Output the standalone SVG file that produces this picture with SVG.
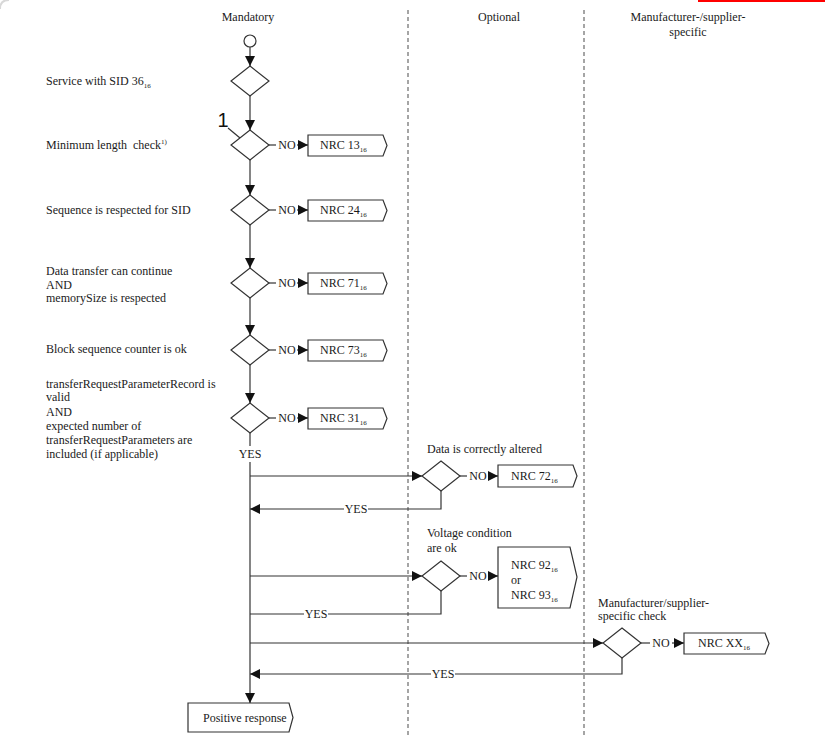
<svg xmlns="http://www.w3.org/2000/svg" width="825" height="749" viewBox="0 0 825 749">
<defs>
<marker id="ah" viewBox="0 0 10 10" refX="10" refY="5" markerWidth="10" markerHeight="10" markerUnits="userSpaceOnUse" orient="auto"><path d="M0,0 L10,5 L0,10 z" fill="#111"/></marker>
<style>
text{font-family:"Liberation Serif","Times New Roman",serif;font-size:12px;fill:#1a1a1a}
.c{text-anchor:middle}
.shape{fill:#fff;stroke:#333;stroke-width:1.2}
.ln{fill:none;stroke:#333;stroke-width:1.2}
.arr{fill:none;stroke:#333;stroke-width:1.2;marker-end:url(#ah)}
.lane{stroke:#888;stroke-width:1.5;stroke-dasharray:4 3}
.sub{font-size:7px}
</style>
</defs>
<rect width="825" height="749" fill="#fff"/>
<rect x="698" y="0" width="127" height="2" fill="#ff0000"/>
<path d="M0,9 Q0,0 9,0" fill="none" stroke="#d8d8d8" stroke-width="2"/>

<g id="lanes">
<line class="lane" x1="408" y1="10" x2="408" y2="735"/>
<line class="lane" x1="584" y1="10" x2="584" y2="735"/>
<text class="c" x="248" y="21">Mandatory</text>
<text class="c" x="499" y="21">Optional</text>
<text class="c" x="688" y="21">Manufacturer-/supplier-</text>
<text class="c" x="688" y="36">specific</text>
</g>

<g id="labels">
<text x="46" y="85">Service with SID 36<tspan class="sub" dy="3">16</tspan></text>
<text x="46" y="149" xml:space="preserve">Minimum length  check<tspan class="sub" dy="-5">1)</tspan></text>
<text x="46" y="214">Sequence is respected for SID</text>
<text x="46" y="275">Data transfer can continue</text>
<text x="46" y="289">AND</text>
<text x="46" y="302">memorySize is respected</text>
<text x="46" y="353">Block sequence counter is ok</text>
<text x="46" y="388">transferRequestParameterRecord is</text>
<text x="46" y="401">valid</text>
<text x="46" y="416">AND</text>
<text x="46" y="430">expected number of</text>
<text x="46" y="444">transferRequestParameters are</text>
<text x="46" y="458">included (if applicable)</text>
<text x="427" y="453">Data is correctly altered</text>
<text x="427" y="537">Voltage condition</text>
<text x="427" y="552">are ok</text>
<text x="598" y="607">Manufacturer/supplier-</text>
<text x="598" y="620">specific check</text>
<text x="223" y="127" class="c" style="font-family:'Liberation Sans',Arial,sans-serif;font-size:20px;fill:#111">1</text>
</g>

<g id="start"><circle class="shape" cx="250" cy="41" r="6"/></g>
<g id="d1"><polygon class="shape" points="250,66 269,81 250,96 231,81"/></g>
<g id="d2"><polygon class="shape" points="250,130 269,145 250,160 231,145"/></g>
<g id="d3"><polygon class="shape" points="250,195 269,210 250,225 231,210"/></g>
<g id="d4"><polygon class="shape" points="250,268 269,283 250,298 231,283"/></g>
<g id="d5"><polygon class="shape" points="250,335 269,350 250,365 231,350"/></g>
<g id="d6"><polygon class="shape" points="250,403 269,418 250,433 231,418"/></g>
<g id="o1"><polygon class="shape" points="441,461 460,476 441,491 422,476"/></g>
<g id="o2"><polygon class="shape" points="441,561 460,576 441,591 422,576"/></g>
<g id="m1"><polygon class="shape" points="622,628 641,643 622,658 603,643"/></g>

<g id="nrc13"><path class="shape" d="M308,135 H383 L387,145.5 L383,156 H308 Z"/><text x="320" y="149">NRC 13<tspan class="sub" dy="3">16</tspan></text></g>
<g id="nrc24"><path class="shape" d="M308,200 H383 L387,210.5 L383,221 H308 Z"/><text x="320" y="214">NRC 24<tspan class="sub" dy="3">16</tspan></text></g>
<g id="nrc71"><path class="shape" d="M308,273 H383 L387,283.5 L383,294 H308 Z"/><text x="320" y="287">NRC 71<tspan class="sub" dy="3">16</tspan></text></g>
<g id="nrc73"><path class="shape" d="M308,340 H383 L387,350.5 L383,361 H308 Z"/><text x="320" y="354">NRC 73<tspan class="sub" dy="3">16</tspan></text></g>
<g id="nrc31"><path class="shape" d="M308,408 H383 L387,418.5 L383,429 H308 Z"/><text x="320" y="422">NRC 31<tspan class="sub" dy="3">16</tspan></text></g>
<g id="nrc72"><path class="shape" d="M498,465 H573 L577,476 L573,487 H498 Z"/><text x="511" y="480">NRC 72<tspan class="sub" dy="3">16</tspan></text></g>
<g id="nrc9293"><path class="shape" d="M498,547 H570 L577,577 L570,608 H498 Z"/><text x="511" y="569">NRC 92<tspan class="sub" dy="3">16</tspan></text><text x="511" y="584">or</text><text x="511" y="599">NRC 93<tspan class="sub" dy="3">16</tspan></text></g>
<g id="nrcxx"><path class="shape" d="M684,633 H765 L769,643.5 L765,654 H684 Z"/><text x="698" y="647">NRC XX<tspan class="sub" dy="3">16</tspan></text></g>
<g id="positive"><path class="shape" d="M188,703 H289 L293,717.5 L289,732 H188 Z"/><text x="203" y="722">Positive response</text></g>

<g id="connectors">
<line class="arr" x1="250" y1="47" x2="250" y2="66"/>
<line class="arr" x1="250" y1="96" x2="250" y2="130"/>
<line class="arr" x1="250" y1="160" x2="250" y2="195"/>
<line class="arr" x1="250" y1="225" x2="250" y2="268"/>
<line class="arr" x1="250" y1="298" x2="250" y2="335"/>
<line class="arr" x1="250" y1="365" x2="250" y2="403"/>
<line class="ln" x1="250" y1="433" x2="250" y2="446"/>
<text class="c" x="250" y="458">YES</text>
<line class="arr" x1="250" y1="462" x2="250" y2="703"/>
<line class="ln" x1="228" y1="128" x2="240" y2="138"/>

<line class="ln" x1="269" y1="145" x2="276" y2="145"/><text class="c" x="287" y="149">NO</text><line class="arr" x1="297" y1="145" x2="308" y2="145"/>
<line class="ln" x1="269" y1="210" x2="276" y2="210"/><text class="c" x="287" y="214">NO</text><line class="arr" x1="297" y1="210" x2="308" y2="210"/>
<line class="ln" x1="269" y1="283" x2="276" y2="283"/><text class="c" x="287" y="287">NO</text><line class="arr" x1="297" y1="283" x2="308" y2="283"/>
<line class="ln" x1="269" y1="350" x2="276" y2="350"/><text class="c" x="287" y="354">NO</text><line class="arr" x1="297" y1="350" x2="308" y2="350"/>
<line class="ln" x1="269" y1="418" x2="276" y2="418"/><text class="c" x="287" y="422">NO</text><line class="arr" x1="297" y1="418" x2="308" y2="418"/>

<line class="arr" x1="250" y1="476" x2="422" y2="476"/>
<line class="ln" x1="460" y1="476" x2="467" y2="476"/><text class="c" x="478" y="480">NO</text><line class="arr" x1="488" y1="476" x2="498" y2="476"/>
<polyline class="ln" points="441,491 441,509 368,509"/>
<text class="c" x="356" y="513">YES</text>
<line class="arr" x1="344" y1="509" x2="250" y2="509"/>

<line class="arr" x1="250" y1="576" x2="422" y2="576"/>
<line class="ln" x1="460" y1="576" x2="467" y2="576"/><text class="c" x="478" y="580">NO</text><line class="arr" x1="488" y1="576" x2="498" y2="576"/>
<polyline class="ln" points="441,591 441,614 328,614"/>
<text class="c" x="316" y="618">YES</text>
<line class="ln" x1="304" y1="614" x2="250" y2="614"/>

<line class="arr" x1="250" y1="643" x2="603" y2="643"/>
<line class="ln" x1="641" y1="643" x2="650" y2="643"/><text class="c" x="661" y="647">NO</text><line class="arr" x1="672" y1="643" x2="684" y2="643"/>
<polyline class="ln" points="622,658 622,674 455,674"/>
<text class="c" x="443" y="678">YES</text>
<line class="arr" x1="431" y1="674" x2="250" y2="674"/>
</g>
</svg>
